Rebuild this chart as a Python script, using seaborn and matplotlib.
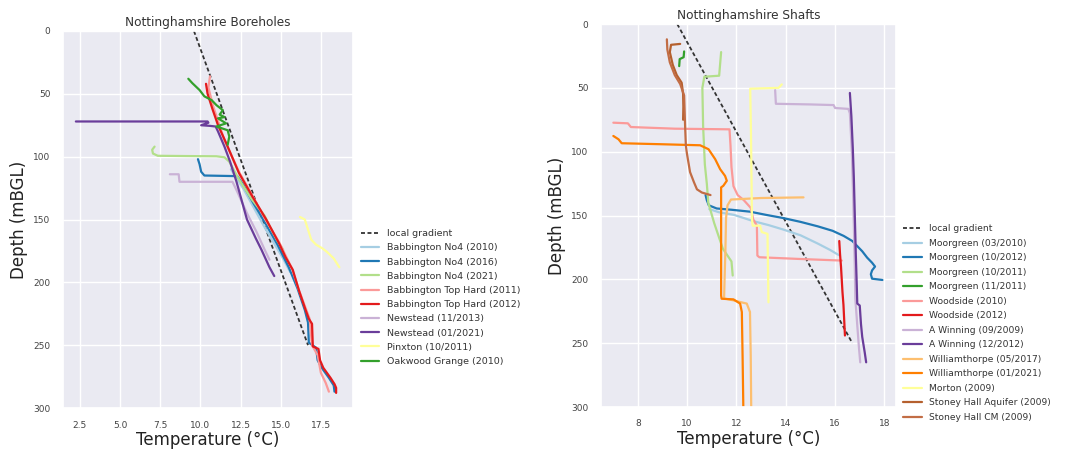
import matplotlib
matplotlib.use("Agg")
import matplotlib.pyplot as plt
import pandas as pd
import seaborn as sns

sns.set_theme(style="darkgrid")
plt.rcParams["font.family"] = ["DejaVu Sans"]

# Local geothermal gradient line (temperature °C, depth m)
grad_temp = [9.6, 16.7]
grad_depth = [0, 250]

# ---------------- Boreholes ----------------
bab10_t = [11.9, 12.3, 12.7, 13.3, 13.9, 14.5, 15.1, 15.6]
bab10_d = [110, 118, 126, 140, 154, 167, 180, 192]

bab16_t = [9.85, 9.95, 10.05, 10.25, 12.3, 12.65, 13.3, 14.0, 14.8, 15.5, 16.05,
           16.5, 16.7, 16.75, 17.2, 17.3, 17.55, 18.0, 18.3, 18.35]
bab16_d = [102, 106, 112, 115, 115.5, 122, 137, 152, 170, 188, 205,
           222, 232, 248, 252, 262, 268, 276, 282, 287]

bab21_t = [7.15, 7.0, 7.05, 7.35, 9.0, 11.0, 11.5, 11.8, 12.4, 13.2, 14.0, 14.3, 14.75, 15.15]
bab21_d = [92, 94.5, 97.5, 99.3, 99.5, 99.7, 100.5, 104, 118, 134, 147, 155, 166, 174]

bth11_t = [10.6, 10.5, 10.8, 11.5, 12.4, 13.2, 14.0, 14.9, 15.7, 16.1, 16.8,
           16.95, 17.3, 17.5, 17.8, 18.0]
bth11_d = [36, 45, 60, 87, 112, 130, 149, 168, 189, 205, 229,
           250, 258, 272, 280, 287]

bth12_t = [10.35, 10.45, 10.75, 11.1, 11.6, 12.4, 13.25, 14.1, 14.9, 15.3, 15.75,
           16.15, 16.55, 16.75, 16.95, 17.0, 17.35, 17.45, 17.65, 18.1, 18.35, 18.45, 18.45]
bth12_d = [42, 50, 62, 75, 89, 113, 132, 150, 169, 180, 190,
           207, 222, 229, 233, 251, 253, 262, 268, 276, 281, 284, 288]

new13_t = [8.1, 8.65, 8.7, 10.5, 12.0, 12.3, 12.9, 13.5, 14.0, 14.3]
new13_d = [114, 114, 120, 120, 120, 128, 145, 160, 174, 182]

new21_t = [2.25, 10.45, 10.5, 10.05, 10.6, 10.95, 11.1, 11.5, 11.85, 12.25, 12.9,
           13.45, 13.8, 14.3, 14.6]
new21_d = [72, 72, 73, 75, 75.5, 76, 80, 92, 104, 120, 150,
           165, 174, 188, 195]

pinx_t = [16.2, 16.5, 16.7, 16.9, 17.2, 17.6, 17.9, 18.3, 18.65]
pinx_d = [148, 150, 158, 166, 170, 173, 176, 181, 188]

oak_t = [9.25, 9.5, 9.95, 10.25, 10.7, 11.0, 11.4, 11.2, 11.5, 11.1, 11.6, 11.0, 11.7, 11.8, 11.7]
oak_d = [38, 41.5, 47, 52, 55, 59, 63, 66.5, 68.5, 69.5, 73.5, 76, 79, 84, 90.5]

# ---------------- Shafts ----------------
moor10_t = [10.9, 11.3, 11.9, 12.7, 13.3, 13.9, 14.6, 15.3, 15.8, 16.15]
moor10_d = [145, 147.5, 149.5, 154.5, 157.5, 161, 165.5, 172, 177, 181]

moor12_t = [10.75, 10.8, 10.88, 11.2, 11.8, 12.55, 13.2, 13.9, 14.6, 15.3, 15.9,
            16.35, 16.7, 16.9, 17.1, 17.3, 17.5, 17.62, 17.5, 17.45, 17.5, 17.92]
moor12_d = [134, 138, 142, 144.5, 145.5, 147, 149.5, 152, 155, 158.5, 162,
            166, 170, 174, 178, 183, 187, 190, 193, 196, 199.5, 200.5]

moor1011_t = [11.38, 11.3, 10.7, 10.62, 10.65, 10.72, 10.8, 10.86, 11.1, 11.45, 11.8, 11.85]
moor1011_d = [22, 40.5, 41.3, 50, 80, 110, 125, 140, 156, 176, 186, 197]

moor1111_t = [9.88, 9.86, 9.7, 9.68]
moor1111_d = [21.5, 26, 27.5, 33]

wood10_t = [7.01, 7.6, 7.72, 9.5, 11.72, 11.76, 11.8, 11.88, 12.05, 12.3, 12.58,
            12.68, 12.83, 12.85, 12.93, 14.5, 16.27]
wood10_d = [77.3, 77.8, 80.7, 82, 82.5, 95, 112, 127, 134, 138, 144,
            153, 158, 181.4, 182.7, 184, 185.3]

wood12_t = [16.17, 16.2, 16.24, 16.27, 16.3, 16.34, 16.37, 16.4]
wood12_d = [170, 180, 190, 200, 210, 220, 232, 244]

awin09_t = [13.57, 13.6, 15.0, 15.94, 16.0, 16.54, 16.6, 16.68, 16.74, 16.8,
            16.82, 16.9, 16.97, 17.02]
awin09_d = [51.8, 62.5, 63, 63.5, 65.8, 66.5, 70, 100, 140, 190,
            215, 236, 254, 265]

awin12_t = [16.6, 16.66, 16.72, 16.76, 16.8, 16.84, 16.88, 16.9, 17.0, 17.05, 17.1, 17.2, 17.26]
awin12_d = [54, 72, 98, 120, 150, 180, 205, 219, 220.5, 235, 245, 257, 265]

will17_t = [14.72, 13.0, 11.78, 11.64, 11.58, 11.55, 11.52, 11.5, 11.88, 12.42, 12.55, 12.58, 12.6]
will17_d = [135.8, 136.3, 137.5, 142, 152, 180, 200, 215, 216.5, 219, 225.6, 260, 300]

will21_t = [7.01, 7.22, 7.35, 9.0, 10.53, 10.87, 11.14, 11.34, 11.54, 11.61, 11.47,
            11.38, 11.38, 11.4, 11.88, 12.15, 12.22, 12.25, 12.28]
will21_d = [87.7, 90.3, 93.4, 94.2, 95, 98.1, 105.9, 113.7, 119, 122.8, 126.7,
            128, 212.6, 215.2, 215.7, 219, 225.6, 260, 300]

mort_t = [13.84, 13.71, 12.56, 12.59, 12.63, 12.66, 12.96, 13.03, 13.26, 13.3]
mort_d = [47.3, 50, 50.7, 85, 152.8, 158, 158, 163, 164.4, 218]

shaq_t = [9.72, 9.35, 9.3, 9.42, 9.58, 9.78, 9.84, 9.85, 9.84]
shaq_d = [15.6, 16.3, 22, 32, 40, 46, 55, 65, 75]

shcm_t = [9.18, 9.2, 9.3, 9.5, 9.72, 9.88, 9.92, 9.95, 9.99, 10.12, 10.28, 10.4, 10.6, 10.95]
shcm_d = [12, 20, 30, 40, 47, 56, 80, 95, 101, 116, 124, 129.5, 132, 134]

pal = sns.color_palette("Paired", 12).as_hex()
LB, B, LG, G, PK, R, LO, O, LP, P, Y, BR = pal

boreholes = [
    ("Babbington No4 (2010)", bab10_t, bab10_d, LB),
    ("Babbington No4 (2016)", bab16_t, bab16_d, B),
    ("Babbington No4 (2021)", bab21_t, bab21_d, LG),
    ("Babbington Top Hard (2011)", bth11_t, bth11_d, PK),
    ("Babbington Top Hard (2012)", bth12_t, bth12_d, R),
    ("Newstead (11/2013)", new13_t, new13_d, LP),
    ("Newstead (01/2021)", new21_t, new21_d, P),
    ("Pinxton (10/2011)", pinx_t, pinx_d, Y),
    ("Oakwood Grange (2010)", oak_t, oak_d, G),
]

shafts = [
    ("Moorgreen (03/2010)", moor10_t, moor10_d, LB),
    ("Moorgreen (10/2012)", moor12_t, moor12_d, B),
    ("Moorgreen (10/2011)", moor1011_t, moor1011_d, LG),
    ("Moorgreen (11/2011)", moor1111_t, moor1111_d, G),
    ("Woodside (2010)", wood10_t, wood10_d, PK),
    ("Woodside (2012)", wood12_t, wood12_d, R),
    ("A Winning (09/2009)", awin09_t, awin09_d, LP),
    ("A Winning (12/2012)", awin12_t, awin12_d, P),
    ("Williamthorpe (05/2017)", will17_t, will17_d, LO),
    ("Williamthorpe (01/2021)", will21_t, will21_d, O),
    ("Morton (2009)", mort_t, mort_d, Y),
    ("Stoney Hall Aquifer (2009)", shaq_t, shaq_d, "#b5602e"),
    ("Stoney Hall CM (2009)", shcm_t, shcm_d, "#c26d45"),
]

W, H = 1065, 454
fig = plt.figure(figsize=(W / 100, H / 100), dpi=100)
ax1 = fig.add_axes([63 / W, 1 - 408 / H, 290 / W, 377 / H])
ax2 = fig.add_axes([601 / W, 1 - 407 / H, 295 / W, 383 / H])


def draw_panel(ax, series, title, xlim, xticks, leg_y, leg_spacing, leg_fs):
    gdf = pd.DataFrame({"Temperature": grad_temp, "Depth": grad_depth})
    sns.lineplot(data=gdf, x="Temperature", y="Depth", ax=ax, color="#333333",
                 linestyle=(0, (2.2, 1.4)), linewidth=1.3, label="local gradient",
                 sort=False, estimator=None)
    for name, t, d, c in series:
        df = pd.DataFrame({"Temperature": t, "Depth": d})
        sns.lineplot(data=df, x="Temperature", y="Depth", ax=ax, color=c,
                     linewidth=1.6, label=name, sort=False, estimator=None)
    ax.set_ylim(300, 0)
    ax.set_xlim(*xlim)
    ax.set_xticks(xticks)
    ax.set_yticks([0, 50, 100, 150, 200, 250, 300])
    ax.tick_params(labelsize=6.5, length=0, pad=9, colors="#444444")
    ax.set_xlabel("Temperature (°C)", fontsize=12, labelpad=1, color="#222222")
    ax.set_ylabel("Depth (mBGL)", fontsize=12, labelpad=4, color="#222222")
    ax.set_title(title, fontsize=8.7, pad=3.5, color="#333333")
    ax.legend(loc="center left", bbox_to_anchor=(1.0, leg_y), frameon=False,
              fontsize=leg_fs, labelspacing=leg_spacing, handlelength=2.0,
              borderaxespad=0.4, labelcolor="#333333")


draw_panel(ax1, boreholes, "Nottinghamshire Boreholes", (1.45, 19.5),
           [2.5, 5.0, 7.5, 10.0, 12.5, 15.0, 17.5], 0.293, 0.55, 6.8)
draw_panel(ax2, shafts, "Nottinghamshire Shafts", (6.51, 18.47),
           [8, 10, 12, 14, 16, 18], 0.219, 0.6, 6.6)

fig.savefig("out.png", dpi=100)
